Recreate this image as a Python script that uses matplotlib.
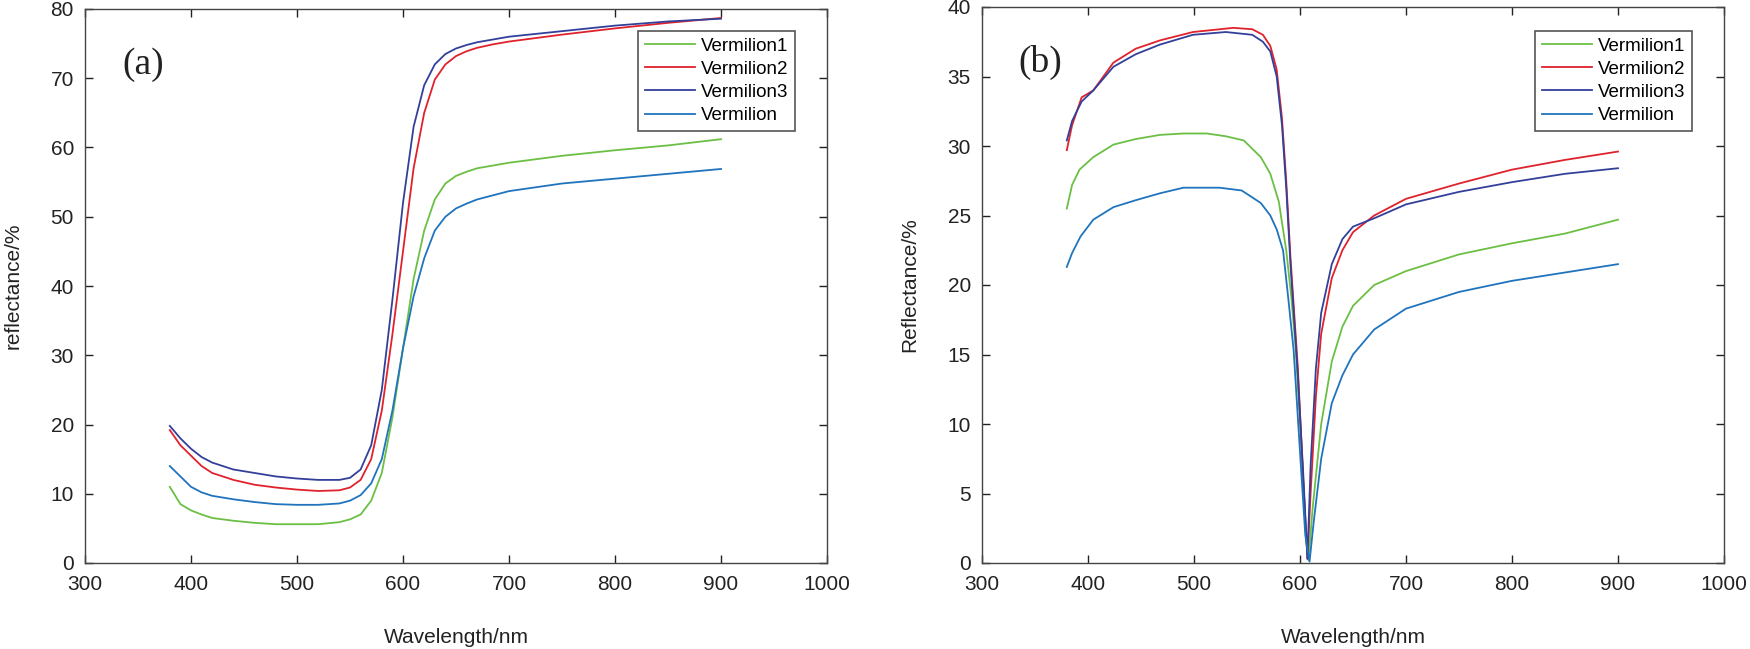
import numpy as np
import matplotlib
matplotlib.use('Agg')
import matplotlib.pyplot as plt

plt.rcParams['font.family'] = ['Liberation Sans', 'DejaVu Sans']

# ---- panel (a) data: reflectance/% vs wavelength/nm ----
wl_a = [380, 390, 400, 410, 420, 440, 460, 480, 500, 520, 540, 550, 560, 570, 580,
        590, 600, 610, 620, 630, 640, 650, 660, 670, 685, 700, 750, 800, 850, 900]
a_verm1 = [11.0, 8.5, 7.6, 7.0, 6.5, 6.1, 5.8, 5.6, 5.6, 5.6, 5.9, 6.3, 7.0, 9.0, 13.0,
           21.0, 31.0, 41.0, 48.0, 52.5, 54.8, 55.9, 56.5, 57.0, 57.4, 57.8, 58.8, 59.6, 60.3, 61.2]
a_verm2 = [19.2, 17.0, 15.5, 14.0, 13.0, 12.0, 11.3, 10.9, 10.6, 10.4, 10.5, 10.9, 12.0, 15.0, 22.0,
           33.0, 45.0, 57.0, 65.0, 69.8, 72.0, 73.2, 73.9, 74.4, 74.9, 75.3, 76.3, 77.2, 78.0, 78.7]
a_verm3 = [19.8, 18.0, 16.5, 15.3, 14.5, 13.5, 13.0, 12.5, 12.2, 12.0, 12.0, 12.3, 13.5, 17.0, 25.0,
           38.0, 52.0, 63.0, 69.0, 72.0, 73.5, 74.3, 74.8, 75.2, 75.6, 76.0, 76.8, 77.6, 78.2, 78.6]
a_verm = [14.0, 12.5, 11.0, 10.2, 9.7, 9.2, 8.8, 8.5, 8.4, 8.4, 8.6, 9.0, 9.8, 11.5, 15.0,
          22.0, 31.0, 38.5, 44.0, 48.0, 50.0, 51.2, 51.9, 52.5, 53.1, 53.7, 54.8, 55.5, 56.2, 56.9]

# ---- panel (b) data ----
wl_b1 = [380, 385, 392, 405, 424, 445, 468, 490, 512, 530, 547, 563, 572, 580, 587,
         592, 596, 602, 606, 608, 612, 620, 630, 640, 650, 670, 700, 750, 800, 850, 900]
b_verm1 = [25.5, 27.2, 28.3, 29.2, 30.1, 30.5, 30.8, 30.9, 30.9, 30.7, 30.4, 29.2, 28.0, 26.0, 22.5,
           19.0, 15.3, 7.5, 1.5, 0.2, 4.0, 10.0, 14.5, 17.0, 18.5, 20.0, 21.0, 22.2, 23.0, 23.7, 24.7]
wl_b2 = [380, 385, 394, 405, 424, 445, 468, 499, 537, 555, 565, 572, 578, 583, 587, 591,
         598, 603, 607, 610, 615, 620, 630, 640, 650, 670, 700, 750, 800, 850, 900]
b_verm2 = [29.7, 31.5, 33.5, 34.0, 36.0, 37.0, 37.6, 38.2, 38.5, 38.4, 38.0, 37.2, 35.5, 32.0, 27.5, 22.0,
           14.0, 6.0, 0.3, 5.0, 12.0, 16.5, 20.5, 22.5, 23.8, 25.0, 26.2, 27.3, 28.3, 29.0, 29.6]
wl_b3 = [380, 385, 394, 405, 424, 445, 468, 499, 530, 555, 565, 572, 578, 583, 587, 591,
         598, 603, 607, 610, 615, 620, 630, 640, 650, 670, 700, 750, 800, 850, 900]
b_verm3 = [30.4, 31.8, 33.2, 34.0, 35.7, 36.6, 37.3, 38.0, 38.2, 38.0, 37.5, 36.8, 35.0, 31.5, 27.0, 21.5,
           13.5, 6.5, 0.3, 7.0, 14.0, 18.0, 21.5, 23.3, 24.2, 24.8, 25.8, 26.7, 27.4, 28.0, 28.4]
wl_b4 = [380, 385, 393, 405, 424, 445, 468, 490, 510, 524, 545, 563, 572, 578, 584,
         589, 594, 600, 605, 609, 613, 620, 630, 640, 650, 670, 700, 750, 800, 850, 900]
b_verm = [21.3, 22.3, 23.5, 24.7, 25.6, 26.1, 26.6, 27.0, 27.0, 27.0, 26.8, 25.9, 25.0, 24.0, 22.5,
          19.0, 15.3, 8.0, 2.0, 0.1, 3.0, 7.5, 11.5, 13.5, 15.0, 16.8, 18.3, 19.5, 20.3, 20.9, 21.5]

labels = ['Vermilion1', 'Vermilion2', 'Vermilion3', 'Vermilion']
colors = ['#6cbf45', '#e0222c', '#33409a', '#1f74bd']

fig = plt.figure(figsize=(17.5, 6.49), dpi=100)
ax1 = fig.add_axes([85 / 1750, 1 - 563 / 649, 742 / 1750, 554 / 649])
ax2 = fig.add_axes([982 / 1750, 1 - 563 / 649, 742 / 1750, 556 / 649])

series_a = [(wl_a, a_verm1), (wl_a, a_verm2), (wl_a, a_verm3), (wl_a, a_verm)]
series_b = [(wl_b1, b_verm1), (wl_b2, b_verm2), (wl_b3, b_verm3), (wl_b4, b_verm)]

for ax, series in [(ax1, series_a), (ax2, series_b)]:
    for (x, y), lab, c in zip(series, labels, colors):
        ax.plot(x, y, color=c, lw=1.3, label=lab)

ax1.set_ylim(0, 80)
ax1.set_yticks(np.arange(0, 81, 10))
ax2.set_ylim(0, 40)
ax2.set_yticks(np.arange(0, 41, 5))

for ax, ylab, tag, ty, lx in [(ax1, 'reflectance/%', '(a)', 72, 638),
                              (ax2, 'Reflectance/%', '(b)', 36, 1535)]:
    ax.set_xlim(300, 1000)
    ax.set_xticks(np.arange(300, 1001, 100))
    ax.tick_params(direction='in', length=5.5, width=1, top=True, right=True,
                   labelsize=15, colors='#222222')
    ax.tick_params(axis='x', pad=9)
    ax.tick_params(axis='y', pad=8)
    for s in ax.spines.values():
        s.set_color('#444444')
        s.set_linewidth(1)
    ax.set_xlabel('Wavelength/nm', fontsize=15, labelpad=24, color='#222222')
    ax.set_ylabel(ylab, fontsize=15, labelpad=20, color='#222222')
    ax.text(355, ty, tag, fontsize=27, family='Liberation Serif', ha='center', va='center',
            color='#222222')
    leg = ax.legend(loc='upper left', bbox_to_anchor=(lx / 1750, 1 - 31 / 649),
                    bbox_transform=fig.transFigure, borderaxespad=0, fontsize=13.5,
                    fancybox=False, edgecolor='#555555', framealpha=1,
                    handlelength=2.7, handletextpad=0.3, labelspacing=0.32, borderpad=0.35)
    leg.get_frame().set_linewidth(1.2)

fig.savefig('out.png', dpi=100)
